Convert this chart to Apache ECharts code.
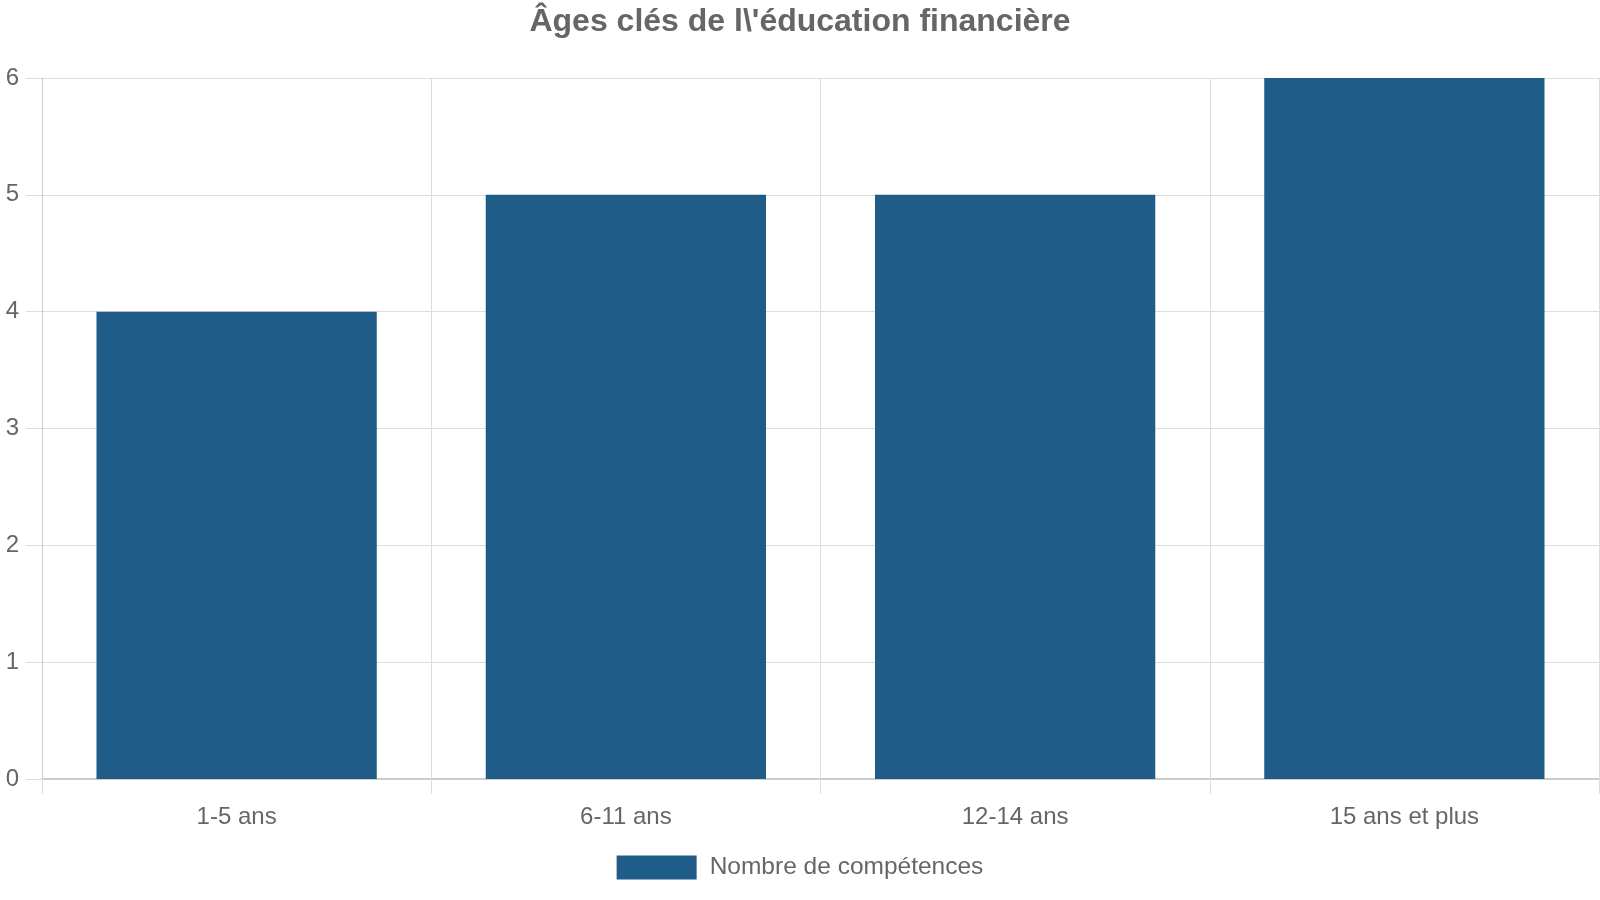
<!DOCTYPE html>
<html>
<head>
<meta charset="utf-8">
<script src="https://cdn.jsdelivr.net/npm/echarts@6/dist/echarts.min.js"></script>
<style>
  html, body { margin: 0; padding: 0; background: #fff; }
  #chart { width: 1600px; height: 900px; }
</style>
</head>
<body>
<div id="chart"></div>
<script>
var categories = ['1-5 ans', '6-11 ans', '12-14 ans', '15 ans et plus'];
var competences = [4, 5, 5, 6];
var yTicks = [0, 1, 2, 3, 4, 5, 6];

var myChart = echarts.init(document.getElementById('chart'));

var option = {
    animation: false,
    textStyle: { fontFamily: 'Liberation Sans, Arial, sans-serif' },
    title: {
        text: "Âges clés de l\\'éducation financière",
        left: 'center',
        top: 1,
        textStyle: { fontSize: 32, fontWeight: 'bold', color: '#666' }
    },
    legend: {
        data: ['Nombre de compétences'],
        bottom: 15,
        left: 'center',
        icon: 'rect',
        itemWidth: 80,
        itemHeight: 24,
        textStyle: { fontSize: 24.5, color: '#666', padding: [0, 0, 0, 8] }
    },
    grid: {
        left: 42,
        right: 1,
        top: 78,
        bottom: 121,
        containLabel: false
    },
    xAxis: {
        type: 'category',
        data: categories,
        axisLine: { lineStyle: { color: '#ccc', width: 2 } },
        axisTick: { show: true, length: 15, lineStyle: { color: '#ddd' } },
        axisLabel: { fontSize: 24, color: '#666', margin: 26 },
        splitLine: { show: true, lineStyle: { color: '#ddd' } }
    },
    yAxis: {
        type: 'value',
        min: yTicks[0],
        max: yTicks[yTicks.length - 1],
        interval: 1,
        axisLine: { show: true, lineStyle: { color: '#ccc' } },
        axisTick: { show: true, length: 16, lineStyle: { color: '#ddd' } },
        axisLabel: { fontSize: 24, color: '#666', margin: 23 },
        splitLine: { show: true, lineStyle: { color: '#ddd' } }
    },
    series: [
        {
            name: 'Nombre de compétences',
            type: 'bar',
            data: competences,
            barCategoryGap: '28%',
            itemStyle: { color: '#1f5c87' }
        }
    ]
};

myChart.setOption(option);
</script>
</body>
</html>
